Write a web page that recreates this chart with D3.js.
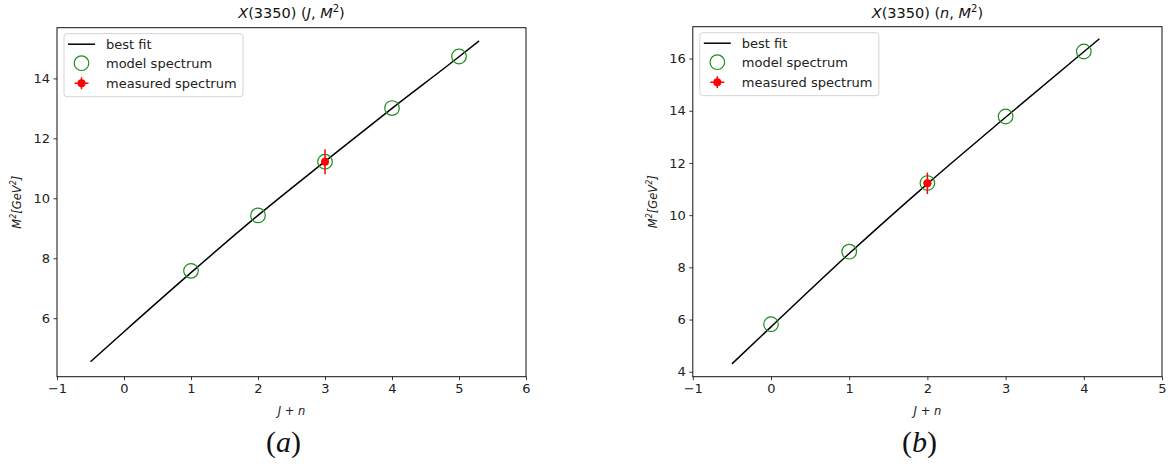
<!DOCTYPE html>
<html>
<head>
<meta charset="utf-8">
<script src="https://cdn.jsdelivr.net/npm/d3@7"></script>
<style>
  html, body { margin: 0; padding: 0; background: #fff; }
  svg { display: block; font-family: "DejaVu Sans", sans-serif; }
</style>
</head>
<body>
<svg id="chart" width="1171" height="466"></svg>
<script>
// ---------- data ----------
// Panel (a): X(3350) (J, M^2)
const xTicksA = [-1, 0, 1, 2, 3, 4, 5, 6];
const yTicksA = [6, 8, 10, 12, 14];
const fitXA = [-0.5, 0, 1, 2, 3, 4, 5, 5.3];
const fitYA = [4.55, 5.55, 7.52, 9.43, 11.23, 13.0, 14.72, 15.25];
const modelXA = [1, 2, 3, 4, 5];
const modelYA = [7.58, 9.43, 11.22, 13.01, 14.73];
const measXA = [3];
const measYA = [11.22];
const measYErrA = [0.42];
const measXErrA = [0.04];

// Panel (b): X(3350) (n, M^2)
const xTicksB = [-1, 0, 1, 2, 3, 4, 5];
const yTicksB = [4, 6, 8, 10, 12, 14, 16];
const fitXB = [-0.5, 0, 1, 2, 3, 4, 4.2];
const fitYB = [4.30, 5.72, 8.53, 11.2, 13.75, 16.26, 16.76];
const modelXB = [0, 1, 2, 3, 4];
const modelYB = [5.82, 8.6, 11.23, 13.78, 16.27];
const measXB = [2];
const measYB = [11.22];
const measYErrB = [0.41];
const measXErrB = [0.05];

const legendLabels = ["best fit", "model spectrum", "measured spectrum"];
const captions = ["(a)", "(b)"];

// ---------- drawing ----------
const svg = d3.select("#chart");
const GREEN = "#1e8c1e";
const RED = "#ff0000";
const FS = 13;

function drawPanel(cfg) {
  const x = d3.scaleLinear().domain(cfg.xDomain).range([cfg.left, cfg.right]);
  const y = d3.scaleLinear().domain(cfg.yDomain).range([cfg.bottom, cfg.top]);
  const g = svg.append("g");

  // fit line
  const line = d3.line().x(d => x(d[0])).y(d => y(d[1])).curve(d3.curveMonotoneX);
  g.append("path")
    .datum(cfg.fitX.map((v, i) => [v, cfg.fitY[i]]))
    .attr("d", line)
    .attr("fill", "none").attr("stroke", "#000").attr("stroke-width", 1.5);

  // model circles
  g.selectAll(".model").data(cfg.modelX.map((v, i) => [v, cfg.modelY[i]]))
    .enter().append("circle")
    .attr("cx", d => x(d[0])).attr("cy", d => y(d[1])).attr("r", 7.3)
    .attr("fill", "none").attr("stroke", GREEN).attr("stroke-width", 1.2);

  // measured with error bars
  const meas = cfg.measX.map((v, i) => ({x: v, y: cfg.measY[i], ye: cfg.measYErr[i], xe: cfg.measXErr[i]}));
  const mg = g.selectAll(".meas").data(meas).enter().append("g");
  mg.append("line")
    .attr("x1", d => x(d.x)).attr("x2", d => x(d.x))
    .attr("y1", d => y(d.y - d.ye)).attr("y2", d => y(d.y + d.ye))
    .attr("stroke", RED).attr("stroke-width", 1.5);
  mg.append("line")
    .attr("x1", d => x(d.x - d.xe)).attr("x2", d => x(d.x + d.xe))
    .attr("y1", d => y(d.y)).attr("y2", d => y(d.y))
    .attr("stroke", RED).attr("stroke-width", 1.5);
  mg.append("circle")
    .attr("cx", d => x(d.x)).attr("cy", d => y(d.y)).attr("r", 4)
    .attr("fill", RED);

  // axes
  const xAxis = d3.axisBottom(x).tickValues(cfg.xTicks).tickSize(3.5).tickPadding(3.5)
    .tickFormat(d => d < 0 ? "\u2212" + Math.abs(d) : String(d));
  const yAxis = d3.axisLeft(y).tickValues(cfg.yTicks).tickSize(3.5).tickPadding(3.5);
  const gx = g.append("g").attr("transform", `translate(0,${cfg.bottom})`).call(xAxis);
  const gy = g.append("g").attr("transform", `translate(${cfg.left},0)`).call(yAxis);
  [gx, gy].forEach(a => {
    a.select(".domain").remove();
    a.selectAll("text").attr("font-size", FS).attr("fill", "#222")
      .attr("font-family", "DejaVu Sans, sans-serif");
    a.selectAll("line").attr("stroke", "#222").attr("stroke-width", 0.9);
  });

  // frame
  g.append("rect")
    .attr("x", cfg.left).attr("y", cfg.top)
    .attr("width", cfg.right - cfg.left).attr("height", cfg.bottom - cfg.top)
    .attr("fill", "none").attr("stroke", "#111").attr("stroke-width", 1);

  const cx = (cfg.left + cfg.right) / 2;

  // title
  const t = g.append("text").attr("x", cx).attr("y", 18)
    .attr("text-anchor", "middle").attr("font-size", 14.5).attr("fill", "#111");
  t.append("tspan").attr("font-style", "italic").text("X");
  t.append("tspan").text("(3350) (");
  t.append("tspan").attr("font-style", "italic").text(cfg.titleVar);
  t.append("tspan").text(", ");
  t.append("tspan").attr("font-style", "italic").text("M");
  t.append("tspan").attr("font-size", 10).attr("dy", -6).text("2");
  t.append("tspan").attr("dy", 6).text(")");

  // x label
  g.append("text").attr("x", cx).attr("y", 415)
    .attr("text-anchor", "middle").attr("font-size", 11.5).attr("font-style", "italic")
    .attr("fill", "#222").text("J + n");

  // y label
  const yl = g.append("text")
    .attr("transform", `translate(${cfg.left - 36},${(cfg.top + cfg.bottom) / 2}) rotate(-90)`)
    .attr("text-anchor", "middle").attr("font-size", 11.5).attr("font-style", "italic").attr("fill", "#222");
  yl.append("tspan").text("M");
  yl.append("tspan").attr("font-size", 8).attr("dy", -5).text("2");
  yl.append("tspan").attr("dy", 5).text("[GeV");
  yl.append("tspan").attr("font-size", 8).attr("dy", -5).text("2");
  yl.append("tspan").attr("dy", 5).text("]");

  // legend
  const lx = cfg.left + 7, ly = cfg.top + 6;
  const lg = g.append("g").attr("transform", `translate(${lx},${ly})`);
  lg.append("rect").attr("width", 179).attr("height", 63).attr("rx", 3)
    .attr("fill", "#fff").attr("fill-opacity", 0.85).attr("stroke", "#d4d4d4");
  const rowY = [10.5, 29.5, 49.5];
  lg.append("line").attr("x1", 4).attr("x2", 31).attr("y1", rowY[0]).attr("y2", rowY[0])
    .attr("stroke", "#000").attr("stroke-width", 1.5);
  lg.append("circle").attr("cx", 17.5).attr("cy", rowY[1]).attr("r", 7.3)
    .attr("fill", "none").attr("stroke", GREEN).attr("stroke-width", 1.2);
  lg.append("line").attr("x1", 17.5).attr("x2", 17.5).attr("y1", rowY[2] - 6).attr("y2", rowY[2] + 6)
    .attr("stroke", RED).attr("stroke-width", 1.5);
  lg.append("line").attr("x1", 10.5).attr("x2", 24.5).attr("y1", rowY[2]).attr("y2", rowY[2])
    .attr("stroke", RED).attr("stroke-width", 1.5);
  lg.append("circle").attr("cx", 17.5).attr("cy", rowY[2]).attr("r", 4).attr("fill", RED);
  lg.selectAll(".lt").data(legendLabels).enter().append("text")
    .attr("x", 42).attr("y", (d, i) => rowY[i] + 4.5)
    .attr("font-size", FS).attr("fill", "#222").text(d => d);

  // caption
  const c = svg.append("text").attr("x", cx - 8).attr("y", 452)
    .attr("text-anchor", "middle").attr("font-size", 30)
    .attr("font-family", "'Liberation Serif', 'DejaVu Serif', serif").attr("fill", "#111");
  c.append("tspan").text("(");
  c.append("tspan").attr("font-style", "italic").text(cfg.caption.slice(1, -1));
  c.append("tspan").text(")");
}

drawPanel({
  left: 57, right: 526, top: 27.7, bottom: 376.7,
  xDomain: [-1, 6], yDomain: [4.05, 15.69],
  xTicks: xTicksA, yTicks: yTicksA,
  fitX: fitXA, fitY: fitYA, modelX: modelXA, modelY: modelYA,
  measX: measXA, measY: measYA, measYErr: measYErrA, measXErr: measXErrA,
  titleVar: "J", caption: captions[0]
});

drawPanel({
  left: 692.8, right: 1162, top: 26.7, bottom: 376.7,
  xDomain: [-1, 5], yDomain: [3.81, 17.22],
  xTicks: xTicksB, yTicks: yTicksB,
  fitX: fitXB, fitY: fitYB, modelX: modelXB, modelY: modelYB,
  measX: measXB, measY: measYB, measYErr: measYErrB, measXErr: measXErrB,
  titleVar: "n", caption: captions[1]
});
</script>
</body>
</html>
